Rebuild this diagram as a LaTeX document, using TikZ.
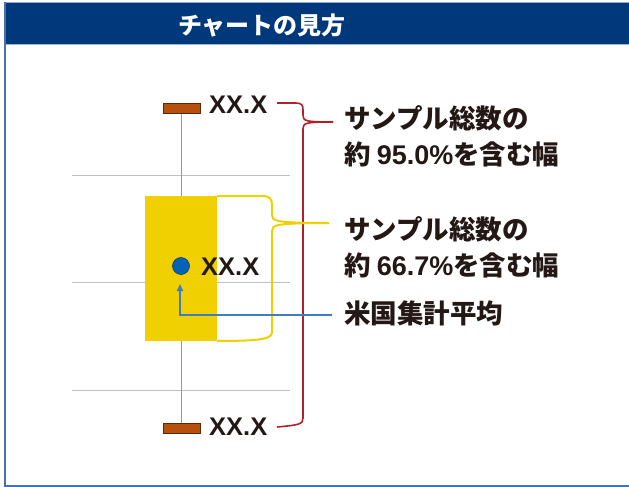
\documentclass[tikz,border=0pt]{standalone}
\usepackage{fontspec}
\setmainfont{Liberation Sans}
\newfontfamily\jpfont{Noto Sans CJK JP}
\newcommand\numfnt{\fontsize{27}{30}\selectfont\rmfamily\bfseries}
\usetikzlibrary{arrows.meta}
\definecolor{hdrblue}{HTML}{00387C}
\definecolor{framebl}{HTML}{4472B0}
\definecolor{capfill}{HTML}{B5500F}
\definecolor{capline}{HTML}{5A2A08}
\definecolor{boxyel}{HTML}{F0D000}
\definecolor{bracered}{HTML}{B0202A}
\definecolor{dotblue}{HTML}{0563B5}
\definecolor{dotline}{HTML}{1A3A6A}
\definecolor{arrblue}{HTML}{3C7DC4}
\definecolor{txt}{HTML}{231815}
\tikzset{
  gridln/.style={draw=black!25, line width=1pt},
  whisker/.style={draw=black!40, line width=1pt},
  capbox/.style={draw=capline, fill=capfill, line width=0.6pt, minimum width=37pt, minimum height=10pt, inner sep=0pt},
  valtxt/.style={font=\fontsize{25.5}{25}\selectfont\bfseries, text=txt, inner sep=0pt},
  jptxt/.style={font=\fontsize{26.5}{30}\selectfont\jpfont\bfseries, text=txt, inner sep=0pt},
  redbrace/.style={draw=bracered, line width=1.6pt},
  yelbrace/.style={draw=boxyel, line width=2pt},
  bluearr/.style={draw=arrblue, line width=2pt, -{Triangle[length=7pt,width=6pt]}},
}
\begin{document}
\begin{tikzpicture}[x=1pt,y=-1pt]
\useasboundingbox (0,0) rectangle (629,487);
% frame and header
\fill[hdrblue] (4,2) rectangle (629,44.5);
\draw[framebl!60, line width=1pt] (4,2.5) -- (629,2.5);
\draw[framebl!50, line width=1pt] (4,44.5) -- (629,44.5);
\draw[framebl, line width=2pt] (5,2) -- (5,487);
\draw[framebl, line width=2pt] (4,486) -- (629,486);
\node[anchor=base, text=white, inner sep=0pt, font=\fontsize{24}{24}\selectfont\jpfont\bfseries] (title) at (262,35) {チャートの見方};
% grid lines
\draw[gridln] (72,175) -- (290,175);
\draw[gridln] (72,282) -- (290,282);
\draw[gridln] (72,390) -- (290,390);
% whisker
\draw[whisker] (181,108) -- (181,428);
% box
\fill[boxyel] (145,196) rectangle (217,341);
% caps
\node[capbox] (captop) at (181.5,108) {};
\node[capbox] (capbot) at (181.5,428) {};
% mean dot
\node[circle, draw=dotline, fill=dotblue, line width=0.6pt, minimum size=17pt, inner sep=0pt] (dot) at (181,266) {};
% values
\node[valtxt, anchor=base west] (vtop) at (209,113) {XX.X};
\node[valtxt, anchor=base west] (vmid) at (201,275) {XX.X};
\node[valtxt, anchor=base west] (vbot) at (209,435) {XX.X};
% labels
\node[jptxt, anchor=base west] (l95a) at (344,128) {サンプル総数の};
\node[jptxt, anchor=base west] (l95b) at (344,164) {約 {\numfnt 95.0\%}を含む幅};
\node[jptxt, anchor=base west] (l67a) at (344,239) {サンプル総数の};
\node[jptxt, anchor=base west] (l67b) at (344,275) {約 {\numfnt 66.7\%}を含む幅};
\node[jptxt, anchor=base west] (lmean) at (344,323) {米国集計平均};
% red brace
\coordinate (rtip) at (333,122);
\coordinate (rtopend) at (277,103);
\coordinate (rbotend) at (277,427);
\draw[redbrace] (rtopend) -- (295,103) .. controls (302,103) and (303,105) .. (303,110) -- (303,115) .. controls (303,121) and (305,122) .. (rtip);
\draw[redbrace] (rtip) .. controls (305,122) and (303,123) .. (303,129) -- (303,418) .. controls (303,424) and (300,425) .. (rbotend);
% yellow brace
\coordinate (ytip) at (329,223);
\coordinate (ytop) at (217,196);
\coordinate (ybot) at (217,341);
\draw[yelbrace] (ytop) -- (262,196) .. controls (270,196) and (272,199) .. (272,205) -- (272,215) .. controls (272,221) and (275,223) .. (ytip);
\draw[yelbrace] (ytip) .. controls (275,223) and (272,225) .. (272,231) -- (272,331) .. controls (272,338) and (268,341) .. (ybot);
% blue arrow
\coordinate (atip) at (180,284);
\draw[bluearr] (332,315) -| (atip);
\end{tikzpicture}
\end{document}
